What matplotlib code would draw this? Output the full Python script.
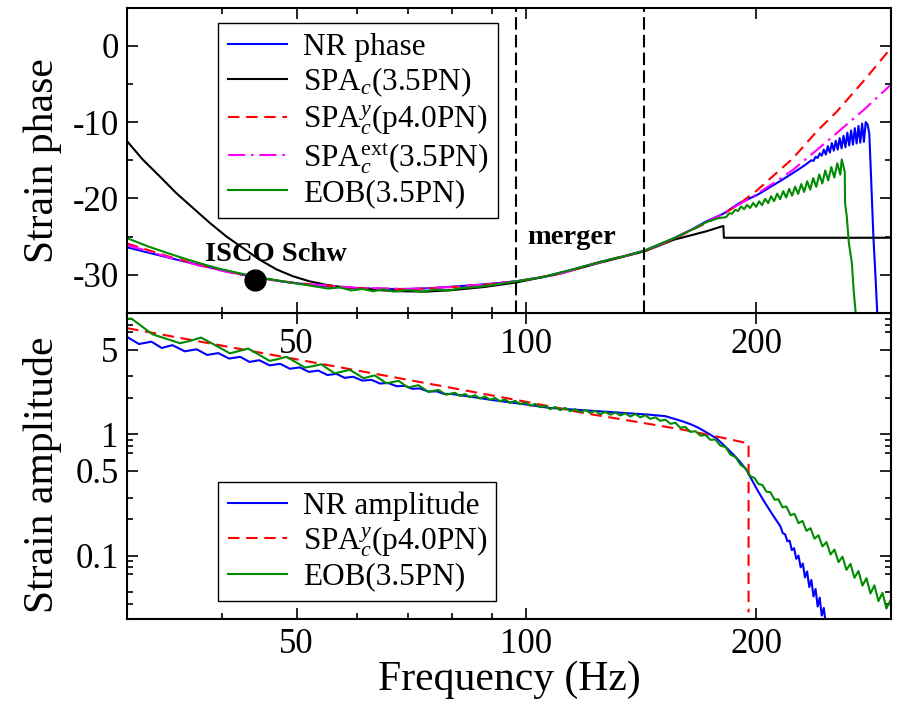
import matplotlib
matplotlib.use('Agg')
import matplotlib.pyplot as plt
from matplotlib.ticker import NullFormatter

plt.rcParams['font.family'] = ['Liberation Serif', 'DejaVu Serif']
plt.rcParams['mathtext.fontset'] = 'custom'
plt.rcParams['mathtext.rm'] = 'Liberation Serif'
plt.rcParams['mathtext.it'] = 'Liberation Serif:italic'
plt.rcParams['mathtext.bf'] = 'Liberation Serif:bold'
plt.rcParams['axes.unicode_minus'] = False

# ---------------- top panel: strain phase ----------------
# NR phase; the tail 236-279 Hz is the fast oscillation read as peaks / troughs
nr_phase_f = [30, 32, 34, 36, 38, 40, 42, 44, 46, 48, 52, 56, 60, 65, 70, 75, 80, 88, 97,
              105, 115, 125, 135, 143, 156, 165, 172, 181, 190, 200, 215, 223, 231,
              236, 237.5, 239, 240.5, 242, 243.5, 245, 246.5, 248, 249.5, 251, 252.5, 254,
              255.5, 257, 258.5, 260, 261.5, 263, 264.5, 266, 267.5, 269, 270.5, 272,
              273.5, 275, 276.5, 278, 279.5, 281, 282.5, 284.5, 286.3, 288]
nr_phase = [-26.4, -27.1, -27.75, -28.35, -28.9, -29.4, -29.85, -30.3, -30.6, -30.9, -31.3,
            -31.6, -31.75, -31.85, -31.85, -31.75, -31.55, -31.25, -30.85, -30.3, -29.3,
            -28.3, -27.5, -26.8, -25.2, -24.0, -23.0, -22.0, -20.6, -19.6, -17.7, -16.7,
            -15.7,
            -15.0, -15.1, -14.55, -14.7, -14.1, -14.4, -13.6, -14.25, -13.15, -14.0, -12.75,
            -13.75, -12.45, -13.6, -12.1, -13.45, -11.8, -13.3, -11.4, -13.05, -11.1,
            -12.95, -10.8, -12.8, -10.5, -12.7, -10.2, -12.6, -10.0, -10.3, -11.5, -17.1,
            -25.0, -30.2, -35.5]

spa_f = [30, 31.45, 33.1, 34.8, 36.6, 38.5, 40.5, 42.55, 44.7, 47.1, 49.5, 52, 54.6, 57.3,
         59.8, 64, 68, 74, 80, 88, 97, 110, 125, 143, 156, 172, 181, 181.3, 300]
spa_phase = [-12.5, -14.9, -17.1, -19.3, -21.25, -23.2, -25.0, -26.5, -28.0, -29.3, -30.2,
             -30.85, -31.3, -31.6, -31.75, -32.0, -32.15, -32.2, -32.0, -31.6, -31.0, -29.9,
             -28.4, -26.9, -25.4, -24.3, -23.6, -25.15, -25.15]

spay_f = [30, 34, 38, 44, 50, 60, 70, 80, 90, 97, 110, 125, 143, 156, 172, 181, 192.3, 200,
          213.9, 223, 240, 255, 278, 300]
spay_phase = [-25.9, -27.6, -28.9, -30.3, -31.1, -31.75, -31.9, -31.6, -31.2, -30.85, -29.9,
              -28.3, -26.85, -25.3, -23.2, -22.1, -20.3, -19.0, -16.4, -14.8, -11.2, -8.6,
              -4.3, -0.3]

ext_f = [30, 34, 38, 44, 50, 60, 70, 80, 90, 97, 110, 125, 143, 156, 172, 181, 190, 196.4,
         213.9, 223.3, 245.6, 276.4, 300]
ext_phase = [-26.1, -27.7, -29.0, -30.4, -31.1, -31.7, -31.85, -31.6, -31.2, -30.85, -29.95,
             -28.35, -26.85, -25.25, -23.1, -22.0, -20.75, -19.95, -17.55, -16.25, -12.8,
             -8.4, -5.1]

eob_f = [30, 32, 34, 36, 38, 40, 43, 46, 49, 52, 55, 57, 59, 61, 63, 65, 67, 70, 73, 76, 79,
         82, 86, 90, 97, 105, 115, 125, 135, 143, 156, 165, 172, 178,
         182.5, 184.2, 185.8, 187.5, 189.2, 190.9, 192.7, 194.4, 196.2, 198.0, 199.8, 201.6,
         203.4, 205.3, 207.2, 209.0, 210.9, 212.9, 214.8, 216.8, 218.7, 220.7, 222.7, 224.7,
         226.8, 228.9, 230.9, 233.0, 235.2, 237.3, 239.5, 241.7, 243.9, 246.1, 248.3, 250.6,
         252.9, 255.2, 257.5, 258.6, 261.0, 261.2, 262.6, 264.2, 266.6, 268.0, 270.0]
eob_phase = [-25.2, -26.3, -27.2, -28.0, -28.7, -29.3, -30.0, -30.55, -31.0, -31.4, -31.8,
             -31.65, -32.05, -31.85, -32.15, -31.9, -32.2, -32.0, -32.2, -31.95, -32.05,
             -31.75, -31.6, -31.35, -30.85, -30.3, -29.3, -28.3, -27.5, -26.8, -25.2, -24.05,
             -23.1, -22.6,
             -22.45, -21.95, -22.0, -21.5, -21.65, -21.05, -21.4, -20.85, -21.25, -20.6,
             -21.1, -20.38, -20.88, -20.05, -20.62, -19.71, -20.36, -19.37, -20.1, -19.04,
             -19.88, -18.75, -19.64, -18.46, -19.41, -18.12, -19.15, -17.76, -18.84, -17.34,
             -18.48, -16.86, -18.04, -16.34, -17.64, -15.89, -17.26, -15.4, -16.9, -14.9,
             -16.5, -20.6, -22.4, -25.8, -28.4, -31.9, -35.5]

isco_f, isco_phase = 44.1, -30.7
merger_f = [96.8, 142.5]

# ---------------- bottom panel: strain amplitude ----------------
nr_amp_f = [30.0, 31.1, 32.3, 33.3, 34.4, 35.7, 37.0, 38.2, 39.5, 40.8, 42.2, 43.4, 44.7,
            46.1, 47.6, 49.0, 50.5, 51.9, 53.4, 54.9, 56.4, 57.8, 59.3, 61.0, 62.7, 64.3,
            65.9, 67.6, 69.3, 70.9, 72.5, 74.4, 76.3, 78.0, 79.8,
            85, 90, 100, 107, 115, 125, 135, 145, 152, 160, 164, 168, 172.8, 177.5, 181,
            186.6, 190, 194, 200.4, 205, 210.6,
            215, 216.5, 218, 219.5, 221, 222.5, 224, 225.5, 227, 228.5, 230, 231.5, 233,
            234.5, 236, 237.5, 239, 240.5, 242, 243.5, 245, 246.5]
nr_amp = [6.35, 5.55, 5.80, 5.15, 5.43, 4.83, 5.02, 4.51, 4.67, 4.21, 4.35, 3.95, 4.08,
          3.70, 3.81, 3.47, 3.56, 3.27, 3.35, 3.08, 3.15, 2.92, 2.98, 2.77, 2.81, 2.62,
          2.65, 2.49, 2.51, 2.37, 2.39, 2.25, 2.26, 2.15, 2.15,
          2.03, 1.92, 1.76, 1.65, 1.60, 1.545, 1.495, 1.45, 1.41, 1.28, 1.21, 1.13, 1.02,
          0.92, 0.82, 0.68, 0.60, 0.51, 0.35, 0.275, 0.211,
          0.174, 0.153, 0.150, 0.131, 0.133, 0.111, 0.115, 0.094, 0.100, 0.080, 0.086,
          0.066, 0.074, 0.055, 0.063, 0.046, 0.053, 0.038, 0.045, 0.032, 0.037, 0.027]

spay_amp_f = [30, 40, 50, 60, 70, 81, 100, 118.6, 140, 160.4, 180, 195.3, 195.3]
spay_amp = [7.5, 5.37, 4.15, 3.36, 2.81, 2.37, 1.85, 1.50, 1.26, 1.09, 0.94, 0.84, 0.034]

eob_amp_f = [30.0, 30.4, 32.4, 35.2, 36.3, 37.5, 39.2, 40.9, 42.0, 43.2, 44.6, 46.1, 47.3,
             48.5, 49.9, 51.3, 52.6, 53.9, 55.0, 56.1, 58.7, 61.2,
             63.3, 65.6, 68.0, 70.0, 72.2, 74.4, 76.7, 78.5,
             80.6, 81.8, 83.1, 84.3, 85.6, 86.9, 88.2, 89.6, 91.0, 92.3, 93.7, 95.2, 96.6,
             98.1, 99.6, 101.1, 102.6, 104.2, 105.8, 107.4, 109.0, 110.7, 112.4, 114.1,
             115.8, 117.6, 119.4, 121.2, 123.0, 124.9, 126.8, 128.7, 130.7, 132.7, 134.7,
             136.7, 138.8, 140.9, 143.1, 145.2, 147.5, 149.7, 152.0, 154.3, 156.6, 159.0,
             161.4, 163.9, 166.4, 168.9, 171.5, 174.1, 176.7, 179.4, 182.2, 184.9, 187.7,
             190.6, 193.5,
             196.4, 198.8, 201.2, 203.6, 206.1, 208.6, 211.2, 213.7, 216.3, 218.9, 221.6,
             224.3, 227.0, 229.8, 232.5, 235.4, 238.2, 241.1, 244.0, 247.0, 250.0, 253.0,
             256.1, 259.2, 262.3, 265.5, 268.7, 272.0, 275.3, 278.6, 282.0, 285.4, 288.9,
             292.4, 295.9, 299.5, 300]
eob_amp = [8.95, 8.99, 6.67, 5.63, 5.9, 6.27, 5.4, 4.65, 4.85, 5.09, 4.55, 4.03, 4.17,
           4.35, 3.93, 3.55, 3.65, 3.78, 3.45, 3.18, 3.40, 2.90,
           3.06, 2.63, 2.76, 2.43, 2.54, 2.24, 2.32, 2.12,
           2.20, 2.07, 2.15, 2.02, 2.10, 1.97, 2.05, 1.92, 1.99, 1.87, 1.94, 1.81, 1.89,
           1.77, 1.83, 1.72, 1.78, 1.67, 1.72, 1.61, 1.68, 1.58, 1.65, 1.55, 1.61, 1.52,
           1.59, 1.50, 1.56, 1.46, 1.53, 1.45, 1.51, 1.43, 1.49, 1.40, 1.47, 1.38, 1.435,
           1.34, 1.38, 1.29, 1.32, 1.22, 1.245, 1.13, 1.15, 1.045, 1.06, 0.975, 0.985, 0.90,
           0.905, 0.805, 0.785, 0.68, 0.65, 0.56, 0.525,
           0.451, 0.437, 0.389, 0.382, 0.336, 0.333, 0.289, 0.291, 0.250, 0.254, 0.215,
           0.221, 0.185, 0.193, 0.160, 0.168, 0.138, 0.147, 0.119, 0.129, 0.102, 0.112,
           0.0883, 0.0979, 0.0762, 0.0855, 0.0656, 0.0745, 0.0565, 0.0651, 0.0487, 0.0568,
           0.0421, 0.0493, 0.0366, 0.0428, 0.040]

c_nr, c_spa, c_spay, c_ext, c_eob = '#0000ff', '#000000', '#ff0000', '#ff00ff', '#008b00'
lw = 1.5
dash_red = (0, (5.5, 3.2))
dash_ext = (0, (8.3, 2.7, 1.3, 2.7))

fig = plt.figure(figsize=(8.97, 7.01), dpi=100)
ax2 = fig.add_axes([0.1416, 0.117, 0.8517, 0.4365])
ax1 = fig.add_axes([0.1416, 0.5535, 0.8517, 0.4358])

# top panel
ax1.plot(nr_phase_f, nr_phase, color=c_nr, lw=lw, label='NR phase')
ax1.plot(spa_f, spa_phase, color=c_spa, lw=lw, label='SPA$_c$(3.5PN)')
ax1.plot(spay_f, spay_phase, color=c_spay, lw=lw, ls=dash_red, label='SPA$_c^y$(p4.0PN)')
ax1.plot(ext_f, ext_phase, color=c_ext, lw=lw, ls=dash_ext, label='SPA$_c^{\\rm ext}$(3.5PN)')
ax1.plot(eob_f, eob_phase, color=c_eob, lw=lw, label='EOB(3.5PN)')
for fm in merger_f:
    ax1.axvline(fm, color='k', lw=1.5, ls=(0, (6, 2.5)))
ax1.plot([isco_f], [isco_phase], 'o', color='k', ms=15, zorder=5)
ax1.text(37.9, -28.2, 'ISCO Schw', fontsize=20.5, fontweight='bold', va='baseline')
ax1.text(100.2, -26.0, 'merger', fontsize=20.5, fontweight='bold', va='baseline')
ax1.set_ylim(-35, 5)
ax1.set_yticks([0, -10, -20, -30])
ax1.set_yticks([5, -5, -15, -25, -35], minor=True)
ax1.set_ylabel('Strain phase', fontsize=30)
ax1.yaxis.set_label_coords(-0.085, 0.5)

# bottom panel
ax2.plot(nr_amp_f, nr_amp, color=c_nr, lw=lw, label='NR amplitude')
ax2.plot(spay_amp_f, spay_amp, color=c_spay, lw=lw, ls=dash_red, label='SPA$_c^y$(p4.0PN)')
ax2.plot(eob_amp_f, eob_amp, color=c_eob, lw=lw, label='EOB(3.5PN)')
ax2.set_yscale('log')
ax2.set_ylim(0.03, 10)
ax2.set_yticks([0.1, 0.5, 1, 5])
ax2.set_yticklabels(['0.1', '0.5', '1', '5'])
ax2.set_yticks([0.04, 0.05, 0.07, 0.08, 0.09, 0.2, 0.3, 0.7, 0.8, 0.9, 2, 3, 7, 8, 9],
               minor=True)
ax2.yaxis.set_minor_formatter(NullFormatter())
ax2.set_ylabel('Strain amplitude', fontsize=30)
ax2.yaxis.set_label_coords(-0.085, 0.47)
ax2.set_xlabel('Frequency (Hz)', fontsize=30)
ax2.xaxis.set_label_coords(0.5, -0.137)

for ax, xpad in ((ax1, 11), (ax2, 6.5)):
    ax.set_xscale('log')
    ax.set_xlim(30, 300)
    ax.set_xticks([50, 100, 200])
    ax.set_xticklabels(['50', '100', '200'])
    ax.set_xticks([40, 60, 70, 80, 90], minor=True)
    ax.xaxis.set_minor_formatter(NullFormatter())
    ax.tick_params(which='both', direction='in', top=True, right=True, labelsize=25)
    ax.tick_params(which='major', length=8, width=1.2)
    ax.tick_params(which='minor', length=4.5, width=1.2)
    ax.tick_params(axis='x', pad=xpad)
    ax.tick_params(axis='y', pad=6)
    for s in ax.spines.values():
        s.set_linewidth(1.5)

leg_kw = dict(loc='upper left', borderaxespad=0, fontsize=22.5, handlelength=1.9,
              handletextpad=0.5, labelspacing=0.12, borderpad=0.3, fancybox=False,
              edgecolor='black', framealpha=1)
leg1 = ax1.legend(bbox_to_anchor=(0.1195, 0.948), **leg_kw)
leg2 = ax2.legend(bbox_to_anchor=(0.1195, 0.4487), **leg_kw)
for leg in (leg1, leg2):
    leg.get_frame().set_linewidth(1.0)

fig.savefig('out.png', dpi=100)
